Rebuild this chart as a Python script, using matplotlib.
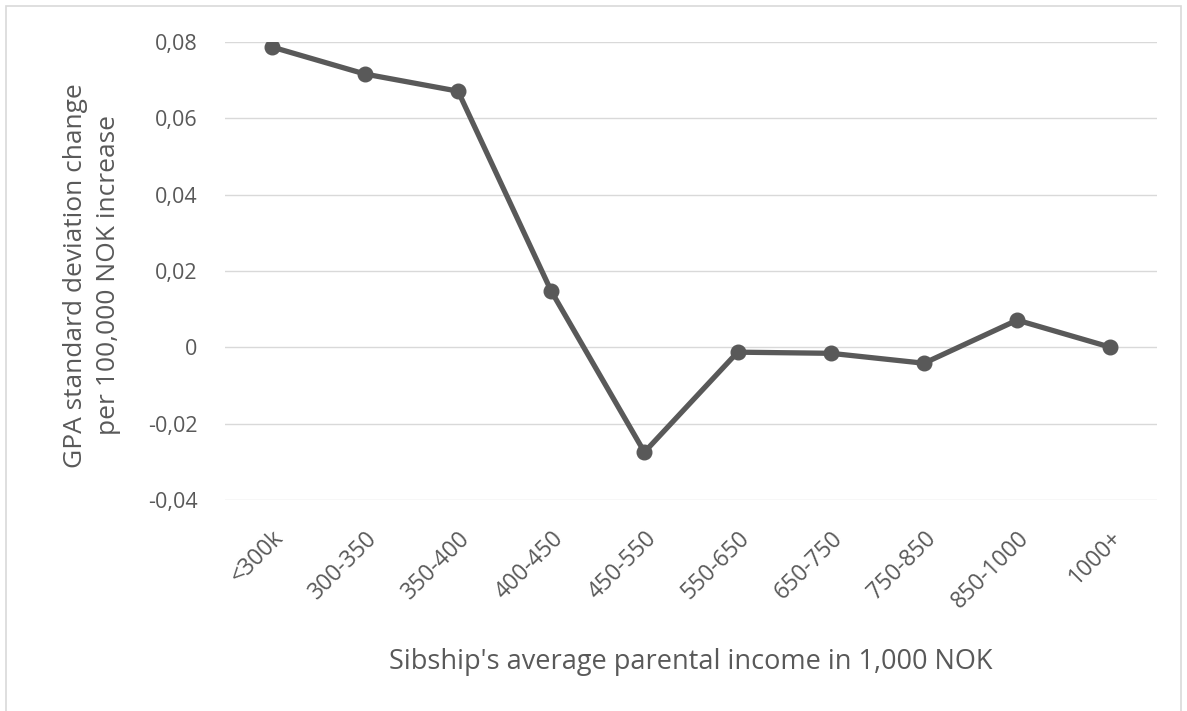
import matplotlib
matplotlib.use("Agg")
import matplotlib.pyplot as plt
from matplotlib.patches import Rectangle
from matplotlib.ticker import FuncFormatter

# income groups and estimated effect
groups = ["<300k", "300-350", "350-400", "400-450", "450-550",
          "550-650", "650-750", "750-850", "850-1000", "1000+"]
effect = [0.0787, 0.0716, 0.0671, 0.0147, -0.0275,
          -0.0013, -0.0016, -0.0042, 0.0071, 0.0]
yticks = [-0.04, -0.02, 0, 0.02, 0.04, 0.06, 0.08]

plt.rcParams["font.family"] = ["Open Sans", "DejaVu Sans"]
txt = "#595959"

fig = plt.figure(figsize=(11.87, 7.11), dpi=100)
ax = fig.add_axes([0.1896, 0.297, 0.7851, 0.644])

x = range(len(groups))
ax.plot(x, effect, color="#595959", lw=3.8, marker="o", markersize=10.5,
        solid_joinstyle="round", zorder=3)

ax.set_xlim(-0.5, len(groups) - 0.5)
ax.set_ylim(-0.04, 0.08)
ax.set_yticks(yticks)
ax.yaxis.set_major_formatter(FuncFormatter(
    lambda v, p: "0" if abs(v) < 1e-9 else ("%.2f" % v).replace(".", ",")))
ax.set_xticks(list(x))
ax.set_xticklabels(groups, rotation=45, ha="right", va="top",
                   rotation_mode="anchor")
ax.tick_params(axis="both", length=0, colors=txt)
ax.tick_params(axis="y", pad=20, labelsize=15.5)
ax.tick_params(axis="x", pad=19, labelsize=16.5)
ax.grid(axis="y", color="#d9d9d9", lw=1)
ax.set_axisbelow(True)
for s in ax.spines.values():
    s.set_visible(False)

ax.set_ylabel("GPA standard deviation change\nper 100,000 NOK increase",
              fontsize=19, color=txt, linespacing=1.4, va="center")
ax.yaxis.set_label_coords(-0.1427, 0.49)
ax.set_xlabel("Sibship's average parental income in 1,000 NOK",
              fontsize=19.5, color=txt, va="center")
ax.xaxis.set_label_coords(0.5, -0.354)

# light frame around the chart like the Excel chart area
fig.patches.append(Rectangle((0.005, -0.05), 0.99, 1.042,
                             transform=fig.transFigure, fill=False,
                             edgecolor="#d9d9d9", lw=1.2))

fig.savefig("out.png", dpi=100)
